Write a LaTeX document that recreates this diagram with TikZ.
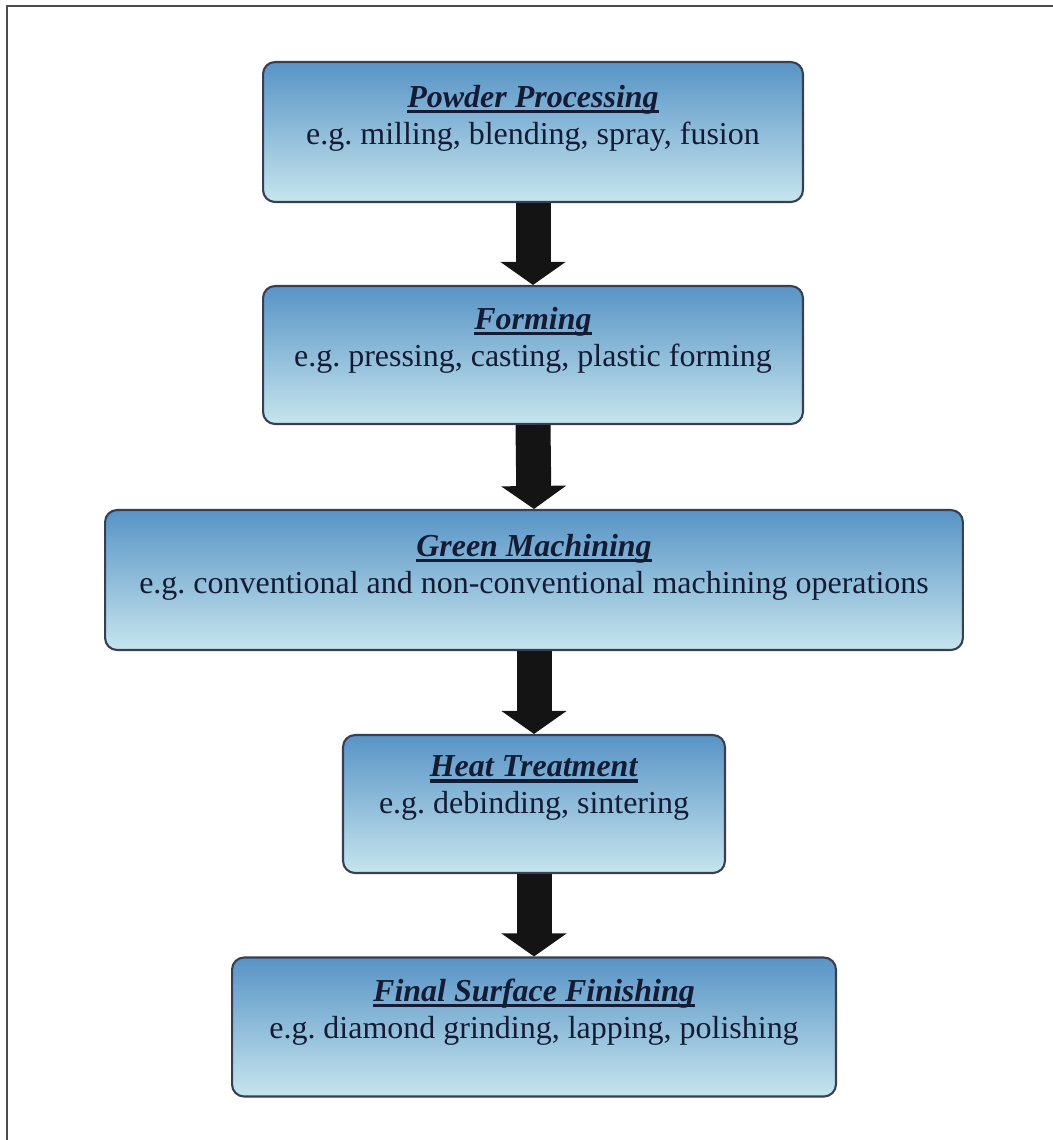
\documentclass[tikz,border=0pt]{standalone}
\usepackage{fontspec}
\setmainfont{Liberation Serif}
\usetikzlibrary{arrows.meta}

\definecolor{boxtop}{RGB}{88,148,198}
\definecolor{boxbottom}{RGB}{198,229,238}
\definecolor{boxline}{RGB}{58,62,82}
\definecolor{inktext}{RGB}{20,27,52}

% title with a rule at fixed depth, drawn under the letters
\newcommand{\stagetitle}[1]{\setbox0\hbox{\textbf{\textit{#1}}}\rlap{\rule[-3.4pt]{\wd0}{1.8pt}}\box0}
\frenchspacing

\begin{document}
\begin{tikzpicture}[x=0.02cm,y=-0.02cm]
\tikzstyle{every node}+=[inner sep=0pt]
\tikzstyle{stagebox}=[draw=boxline, line width=1.2pt, rounded corners=0.24cm,
  top color=boxtop, bottom color=boxbottom, shading angle=0]
\tikzstyle{stagetext}=[align=center, text=inktext, font=\fontsize{18.2}{21}\selectfont]
\tikzstyle{flowarrow}=[draw=black!92, line width=0.7cm,
  -{Triangle[width=1.28cm,length=0.46cm]}]
\useasboundingbox (0,0) rectangle (1053,1140);
% frame (only left and top edges show)
\draw [black!70, line width=1.1pt] (7,1140) -- (7,6) -- (1053,6);
% stages
\node [stagebox, minimum width=10.8cm, minimum height=2.8cm] (pp) at (533,132) {};
\node [stagetext] (ppt) at (533,118) {\stagetitle{Powder Processing}\\ e.g. milling, blending, spray, fusion};
\node [stagebox, minimum width=10.8cm, minimum height=2.76cm] (fm) at (533,355) {};
\node [stagetext] (fmt) at (533,340) {\stagetitle{Forming}\\ e.g. pressing, casting, plastic forming};
\node [stagebox, minimum width=17.16cm, minimum height=2.8cm] (gm) at (534,580) {};
\node [stagetext] (gmt) at (534,567) {\stagetitle{Green Machining}\\ e.g. conventional and non-conventional machining operations};
\node [stagebox, minimum width=7.64cm, minimum height=2.76cm] (ht) at (534,804) {};
\node [stagetext] (htt) at (534,788) {\stagetitle{Heat Treatment}\\ e.g. debinding, sintering};
\node [stagebox, minimum width=12.08cm, minimum height=2.78cm] (sf) at (534,1027) {};
\node [stagetext] (sft) at (534,1012) {\stagetitle{Final Surface Finishing}\\ e.g. diamond grinding, lapping, polishing};
% arrows
\draw [flowarrow] (pp.south) -- (fm.north);
\draw [flowarrow] (fm.south) -- (gm.north);
\draw [flowarrow] (gm.south) -- (ht.north);
\draw [flowarrow] (ht.south) -- (sf.north);
\end{tikzpicture}
\end{document}
